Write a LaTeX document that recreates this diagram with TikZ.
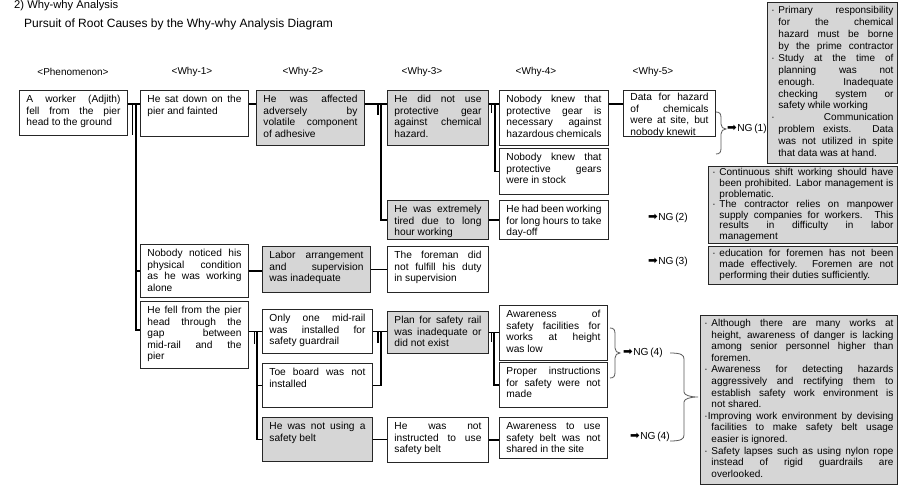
\documentclass[tikz,border=0pt]{standalone}
\usepackage{fontspec}
\setmainfont{Liberation Sans}
\newfontfamily\arrowfont{DejaVu Sans}

% line helpers for justified box text
\newlength\bind
\setlength\bind{7pt}
\newcommand\Jl[1]{\makebox[\linewidth][s]{\strut#1}\par}
\newcommand\El[1]{\strut#1\par}
\newcommand\Bj[1]{\makebox[\linewidth][s]{\strut\makebox[\bind][l]{·}#1}\par}
\newcommand\Cj[1]{\hspace*{\bind}\makebox[\dimexpr\linewidth-\bind\relax][s]{\strut#1}\par}
\newcommand\Ce[1]{\hspace*{\bind}\strut#1\par}
\newcommand\ngarrow{{\arrowfont\fontsize{11.5pt}{12pt}\selectfont ➡}\kern0.5pt}

% cause box: name, style, x, y, width, height, text
\newcommand\bx[7]{\node[#2] (#1) at (#3,#4)
  {\parbox[c][\dimexpr#6pt-8pt\relax][t]{\dimexpr#5pt-14pt\relax}{#7}};}
% remark box: name, x, y, width, inner height, baselineskip, ysep, text
\newcommand\rbx[8]{\node[rbox, inner ysep=#7pt, font=\fontsize{10pt}{#6pt}\selectfont] (#1) at (#2,#3)
  {\parbox[c][#5pt][t]{\dimexpr#4pt-8pt\relax}{#8}};}
% right curly brace: x, top, tip, bottom, half width
\newcommand\curlyR[5]{\draw[brace] (#1,#2) .. controls (#1+#5*0.8,#2) and (#1+#5,#2+2) .. (#1+#5,#2+6)
  -- (#1+#5,#3-5) .. controls (#1+#5,#3-2) and (#1+#5*1.4,#3) .. (#1+#5*2,#3)
  .. controls (#1+#5*1.4,#3) and (#1+#5,#3+2) .. (#1+#5,#3+5)
  -- (#1+#5,#4-6) .. controls (#1+#5,#4-2) and (#1+#5*0.8,#4) .. (#1,#4);}

\tikzset{
  wbox/.style={draw=black!85, line width=0.9pt, fill=white, anchor=north west,
    inner xsep=7pt, inner ysep=4pt, font=\fontsize{10.2pt}{11.6pt}\selectfont},
  gbox/.style={wbox, fill=black!16},
  rbox/.style={draw=black!85, line width=0.9pt, fill=black!16, anchor=north west, inner xsep=4pt},
  link/.style={line width=1.6pt, black},
  hdr/.style={font=\fontsize{10pt}{12pt}\selectfont, inner sep=0pt},
  nglabel/.style={font=\fontsize{10.2pt}{12pt}\selectfont, inner sep=0pt, anchor=west},
  brace/.style={line width=0.8pt, black!65},
}

\begin{document}
\begin{tikzpicture}[x=1pt,y=-1pt]
\useasboundingbox (0,0) rectangle (901,486);
\fill[white] (0,0) rectangle (901,486);

% headings
\node[anchor=base west, inner sep=0pt, font=\fontsize{11.2pt}{14pt}\selectfont] (title) at (14,8.5) {2) Why-why Analysis};
\node[anchor=base west, inner sep=0pt, font=\fontsize{12pt}{14pt}\selectfont] (subtitle) at (24,28) {Pursuit of Root Causes by the Why-why Analysis Diagram};

\node[hdr] (h0) at (73,72) {<Phenomenon>};
\node[hdr] (h1) at (192,72) {<Why-1>};
\node[hdr] (h2) at (303,72) {<Why-2>};
\node[hdr] (h3) at (422,72) {<Why-3>};
\node[hdr] (h4) at (536,72) {<Why-4>};
\node[hdr] (h5) at (653,72) {<Why-5>};

% phenomenon and causes
\bx{phen}{wbox}{19}{90}{108}{45}{\Jl{A worker (Adjith)}\Jl{fell from the pier}\El{head to the ground}}
\bx{w1a}{wbox}{140}{90}{108}{46}{\Jl{He sat down on the}\El{pier and fainted}}
\bx{w2a}{gbox}{256}{90}{108}{55}{\Jl{He was affected}\Jl{adversely by}\Jl{volatile component}\El{of adhesive}}
\bx{w3a}{gbox}{387}{90}{101}{55}{\Jl{He did not use}\Jl{protective gear}\Jl{against chemical}\El{hazard.}}
\bx{w4a}{wbox}{499}{90}{109}{55}{\Jl{Nobody knew that}\Jl{protective gear is}\Jl{necessary against}\El{hazardous chemicals}}
\bx{w5}{wbox, inner ysep=2pt}{623}{90}{92}{50}{\Jl{Data for hazard}\Jl{of chemicals}\Jl{were at site, but}\El{nobody knewit}}
\bx{w4b}{wbox}{499}{148}{109}{46}{\Jl{Nobody knew that}\Jl{protective gears}\El{were in stock}}
\bx{w3b}{gbox}{387}{200}{101}{39}{\Jl{He was extremely}\Jl{tired due to long}\El{hour working}}
\bx{w4c}{wbox}{499}{200}{109}{39}{\Jl{He had been working}\Jl{for long hours to take}\El{day-off}}

\bx{w1b}{wbox}{140}{244}{108}{53}{\Jl{Nobody noticed his}\Jl{physical condition}\Jl{as he was working}\El{alone}}
\bx{w2b}{gbox}{262}{246}{108}{46}{\Jl{Labor arrangement}\Jl{and supervision}\El{was inadequate}}
\bx{w3c}{wbox}{387}{246}{101}{46}{\Jl{The foreman did}\Jl{not fulfill his duty}\El{in supervision}}

\bx{w1c}{wbox}{140}{301}{108}{67}{\Jl{He fell from the pier}\Jl{head through the}\Jl{gap between}\Jl{mid-rail and the}\El{pier}}
\bx{w2c}{wbox}{262}{309}{110}{44}{\Jl{Only one mid-rail}\Jl{was installed for}\El{safety guardrail}}
\bx{w2d}{wbox}{262}{363}{110}{44}{\Jl{Toe board was not}\El{installed}}
\bx{w2e}{gbox}{262}{417}{110}{44}{\Jl{He was not using a}\El{safety belt}}
\bx{w3d}{gbox}{387}{311}{101}{42}{\Jl{Plan for safety rail}\Jl{was inadequate or}\El{did not exist}}
\bx{w3e}{wbox}{387}{417}{101}{45}{\Jl{He was not}\Jl{instructed to use}\El{safety belt}}
\bx{w4d}{wbox}{499}{305}{108}{55}{\Jl{Awareness of}\Jl{safety facilities for}\Jl{works at height}\El{was low}}
\bx{w4e}{wbox}{499}{362}{108}{45}{\Jl{Proper instructions}\Jl{for safety were not}\El{made}}
\bx{w4f}{wbox}{499}{417}{108}{41}{\Jl{Awareness to use}\Jl{safety belt was not}\El{shared in the site}}

% connectors between the boxes
\draw[link] ([yshift=-14pt]phen.north east) -- ([yshift=-14pt]w1a.north west);
\draw[link] ([yshift=-14pt]phen.north east) -- ++(8,0) |- (w1b.west);
\draw[link] ([yshift=-14pt]phen.north east) -- ++(8,0) |- ([yshift=-29pt]w1c.north west);
\draw[link] ([yshift=-14pt]phen.north east) -- ++(4.5,0) -- ++(0,31);

\draw[link] ([yshift=-14pt]w1a.north east) -- ([yshift=-14pt]w2a.north west);
\draw[link] ([yshift=-14pt]w2a.north east) -- ([yshift=-14pt]w3a.north west);
\draw[link] ([yshift=-14pt]w2a.north east) -- ++(16,0) |- (w3b.west);
\draw[link] ([yshift=-14pt]w2a.north east) -- ++(13,0) -- ++(0,11);
\draw[link] ([yshift=-14pt]w3a.north east) -- ([yshift=-14pt]w4a.north west);
\draw[link] ([yshift=-14pt]w3a.north east) -- ++(6,0) |- (w4b.west);
\draw[link] ([yshift=-14pt]w3a.north east) -- ++(2.5,0) -- ++(0,9);
\draw[link] ([yshift=-14pt]w4a.north east) -- ([yshift=-14pt]w5.north west);
\draw[link] (w3b.east) -- (w3b.east -| w4c.west);

\draw[link] (w1b.east) -- (w1b.east -| w2b.west);
\draw[link] (w2b.east) -- (w2b.east -| w3c.west);

\draw[link] (w1c.east |- w2c.west) -- (w2c.west);
\draw[link] (w1c.east |- w2c.west) -- ++(8,0) |- (w2d.west);
\draw[link] (w1c.east |- w2c.west) -- ++(8,0) |- (w2e.west);
\draw[link] (w1c.east |- w2c.west) -- ++(5.5,0) -- ++(0,13);
\draw[link] (w2c.east) -- (w2c.east -| w3d.west);
\draw[link] (w2d.east) -- ++(8,0) |- (w2c.east);
\draw[link] (w2c.east) -- ++(5,0) -- ++(0,12);
\draw[link] (w3d.east) -- (w3d.east -| w4d.west);
\draw[link] (w3d.east) -- ++(5,0) |- (w4e.west);
\draw[link] (w3d.east) -- ++(2.5,0) -- ++(0,10);
\draw[link] (w2e.east) -- (w2e.east -| w3e.west);
\draw[link] (w3e.east) -- (w3e.east -| w4f.west);

% remarks
\rbx{r1}{767}{2}{130}{155}{11.9}{3}{\Bj{Primary responsibility}\Cj{for the chemical}\Cj{hazard must be borne}\Cj{by the prime contractor}\Bj{Study at the time of}\Cj{planning was not}\Cj{enough. Inadequate}\Cj{checking system or}\Ce{safety while working}\Bj{\hfill Communication}\Cj{problem exists. Data}\Cj{was not utilized in spite}\Ce{that data was at hand.}}
\rbx{r2}{708}{166}{189}{73}{10.6}{2}{\Bj{Continuous shift working should have}\Cj{been prohibited. Labor management is}\Ce{problematic.}\Bj{The contractor relies on manpower}\Cj{supply companies for workers. This}\Cj{results in difficulty in labor}\Ce{management}}
\rbx{r3}{708}{246}{189}{33}{10.9}{2.5}{\Bj{education for foremen has not been}\Cj{made effectively. Foremen are not}\Ce{performing their duties sufficiently.}}
\rbx{r4}{700}{315}{197}{163}{11.6}{3}{\Bj{Although there are many works at}\Cj{height, awareness of danger is lacking}\Cj{among senior personnel higher than}\Ce{foremen.}\Bj{Awareness for detecting hazards}\Cj{aggressively and rectifying them to}\Cj{establish safety work environment is}\Ce{not shared.}\Jl{·Improving work environment by devising}\Cj{facilities to make safety belt usage}\Ce{easier is ignored.}\Bj{Safety lapses such as using nylon rope}\Cj{instead of rigid guardrails are}\Ce{overlooked.}}

% conclusions
\node[nglabel] (ng1) at (727,129) {\ngarrow NG\,(1)};
\node[nglabel] (ng2) at (648,218) {\ngarrow NG\,(2)};
\node[nglabel] (ng3) at (648,262) {\ngarrow NG\,(3)};
\node[nglabel] (ng4a) at (623,353) {\ngarrow NG\,(4)};
\node[nglabel] (ng4b) at (630,437) {\ngarrow NG\,(4)};

\curlyR{716}{112}{129}{154}{5}
\curlyR{610}{328}{353}{378}{5}
\curlyR{670}{353}{397}{441}{14}
\end{tikzpicture}
\end{document}
